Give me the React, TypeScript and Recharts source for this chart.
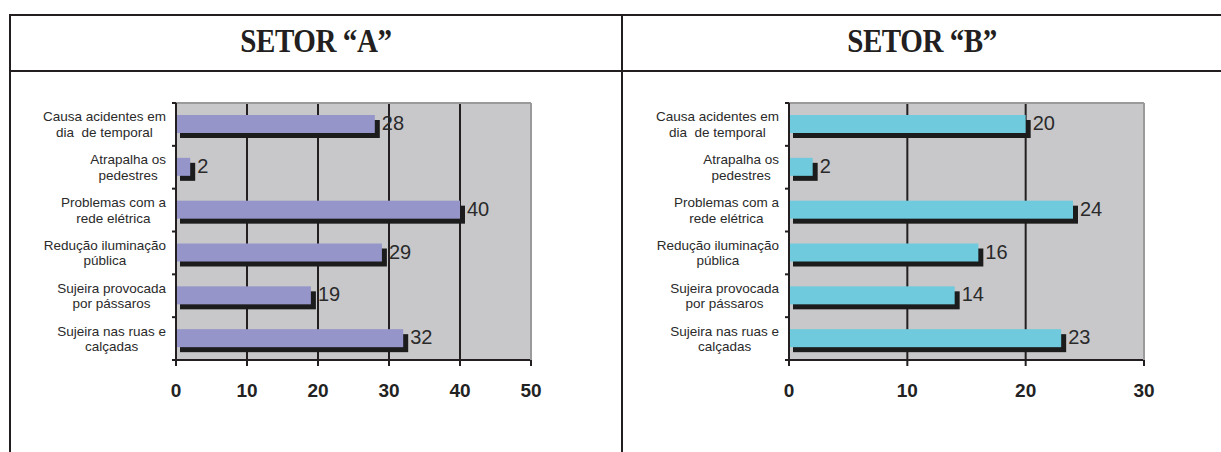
import React from 'react';
import { Bar, BarChart, CartesianGrid, LabelList, XAxis, YAxis } from 'recharts';

// Survey answers, top row first
const categories = [
  'Causa acidentes em\ndia  de temporal',
  'Atrapalha os\npedestres',
  'Problemas com a\nrede elétrica',
  'Redução iluminação\npública',
  'Sujeira provocada\npor pássaros',
  'Sujeira nas ruas e\ncalçadas',
];

const setorA = [28, 2, 40, 29, 19, 32];
const setorB = [20, 2, 24, 16, 14, 23];

const ticksA = [0, 10, 20, 30, 40, 50];
const ticksB = [0, 10, 20, 30];

const titles = ['SETOR “A”', 'SETOR “B”'];

const SANS = '"Liberation Sans", Arial, sans-serif';
const SERIF = '"Liberation Serif", "Times New Roman", serif';
const INK = '#231f20';
const LABEL_SIZE = 13.5;

// multi-line category labels are centred on each other, block right-aligned
let measureCtx: CanvasRenderingContext2D | null = null;
const textWidth = (s: string) => {
  if (!measureCtx) {
    measureCtx = document.createElement('canvas').getContext('2d');
  }
  if (!measureCtx) return s.length * LABEL_SIZE * 0.5;
  measureCtx.font = `${LABEL_SIZE}px ${SANS}`;
  return measureCtx.measureText(s).width;
};

const ShadowBar = (props: any) => {
  const { x, y, width, height, fill } = props;
  if (!width || width <= 0) return null;
  return (
    <g>
      <rect x={x + 4} y={y + 5} width={width + 1} height={height} fill="#1c1c1c" />
      <rect x={x} y={y} width={width} height={height} fill={fill} />
    </g>
  );
};

const renderValue = (props: any) => {
  const { x, y, width, height, value } = props;
  return (
    <text
      x={x + width + 7}
      y={y + height / 2 - 1}
      fontSize={20}
      fontFamily={SANS}
      fill="#2a2a2a"
      dominantBaseline="central"
    >
      {value}
    </text>
  );
};

const CategoryTick = (props: any) => {
  const { x, y, payload, index, visibleTicksCount } = props;
  const lines = String(payload.value).split('\n');
  const half = payload.offset ?? 0;
  const widest = Math.max(...lines.map(textWidth));
  const cx = x - 10 - widest / 2;
  return (
    <g>
      <line x1={x - 4} x2={x} y1={y - half} y2={y - half} stroke={INK} strokeWidth={2} />
      {index === visibleTicksCount - 1 && (
        <line x1={x - 4} x2={x} y1={y + half} y2={y + half} stroke={INK} strokeWidth={2} />
      )}
      <text
        x={cx}
        y={y - 3}
        textAnchor="middle"
        fontSize={LABEL_SIZE}
        fontFamily={SANS}
        fill="#2a2a2a"
        style={{ whiteSpace: 'pre' }}
      >
        {lines.map((line, i) => (
          <tspan key={i} x={cx} dy={i === 0 ? 0 : 15.5}>
            {line}
          </tspan>
        ))}
      </text>
    </g>
  );
};

interface SectorChartProps {
  values: number[];
  ticks: number[];
  color: string;
  width: number;
  yAxisWidth: number;
  rightGap: number;
}

const SectorChart = ({ values, ticks, color, width, yAxisWidth, rightGap }: SectorChartProps) => {
  const data = categories.map((name, i) => ({ name, value: values[i] }));
  const max = ticks[ticks.length - 1];
  return (
    <BarChart
      width={width}
      height={340}
      data={data}
      layout="vertical"
      margin={{ top: 22, right: rightGap, left: 0, bottom: 30 }}
    >
      <CartesianGrid
        horizontal={false}
        verticalValues={ticks.slice(1, -1)}
        stroke={INK}
        strokeWidth={2}
        fill="#c8c8ca"
        fillOpacity={1}
      />
      <XAxis
        type="number"
        domain={[0, max]}
        ticks={ticks}
        interval={0}
        height={30}
        axisLine={{ stroke: INK, strokeWidth: 2 }}
        tickLine={{ stroke: INK, strokeWidth: 2 }}
        tickSize={6}
        tickMargin={18}
        tick={{ fontSize: 19, fontWeight: 'bold', fill: '#222', fontFamily: SANS }}
      />
      <XAxis
        xAxisId="top"
        orientation="top"
        type="number"
        domain={[0, max]}
        height={1}
        tick={false}
        tickLine={false}
        axisLine={{ stroke: '#9a9a9a', strokeWidth: 2 }}
      />
      <YAxis
        type="category"
        dataKey="name"
        width={yAxisWidth}
        interval={0}
        axisLine={{ stroke: INK, strokeWidth: 2 }}
        tickLine={false}
        tickSize={0}
        tickMargin={0}
        tick={<CategoryTick />}
      />
      <YAxis
        yAxisId="right"
        orientation="right"
        type="category"
        dataKey="name"
        width={1}
        tick={false}
        tickLine={false}
        axisLine={{ stroke: '#9a9a9a', strokeWidth: 2 }}
      />
      <Bar dataKey="value" fill={color} barSize={18} shape={<ShadowBar />} isAnimationActive={false}>
        <LabelList dataKey="value" content={renderValue} />
      </Bar>
    </BarChart>
  );
};

const line = (style: React.CSSProperties): React.CSSProperties => ({
  position: 'absolute',
  background: INK,
  ...style,
});

const titleStyle = (left: number, width: number): React.CSSProperties => ({
  position: 'absolute',
  left,
  width,
  top: 14,
  height: 54,
  display: 'flex',
  alignItems: 'center',
  justifyContent: 'center',
  fontFamily: SERIF,
  fontWeight: 'bold',
  fontSize: 33,
  color: INK,
});

export default function App() {
  return (
    <div
      style={{
        position: 'absolute',
        left: 0,
        top: 0,
        width: 1221,
        height: 452,
        background: '#fff',
        overflow: 'hidden',
      }}
    >
      {/* table frame */}
      <div style={line({ left: 9, top: 14, width: 1212, height: 2 })} />
      <div style={line({ left: 9, top: 70, width: 1212, height: 2 })} />
      <div style={line({ left: 9, top: 14, width: 2, height: 438 })} />
      <div style={line({ left: 621, top: 14, width: 2, height: 438 })} />

      <div style={titleStyle(11, 610)}>
        <span style={{ display: 'inline-block', transform: 'scaleX(0.88)', letterSpacing: -0.5 }}>{titles[0]}</span>
      </div>
      <div style={titleStyle(623, 598)}>
        <span style={{ display: 'inline-block', transform: 'scaleX(0.88)', letterSpacing: -0.5 }}>{titles[1]}</span>
      </div>

      <div style={{ position: 'absolute', left: 10, top: 80 }}>
        <SectorChart values={setorA} ticks={ticksA} color="#9595c9" width={600} yAxisWidth={166} rightGap={78} />
      </div>
      <div style={{ position: 'absolute', left: 622, top: 80 }}>
        <SectorChart values={setorB} ticks={ticksB} color="#6ecadc" width={598} yAxisWidth={167} rightGap={75} />
      </div>
    </div>
  );
}
